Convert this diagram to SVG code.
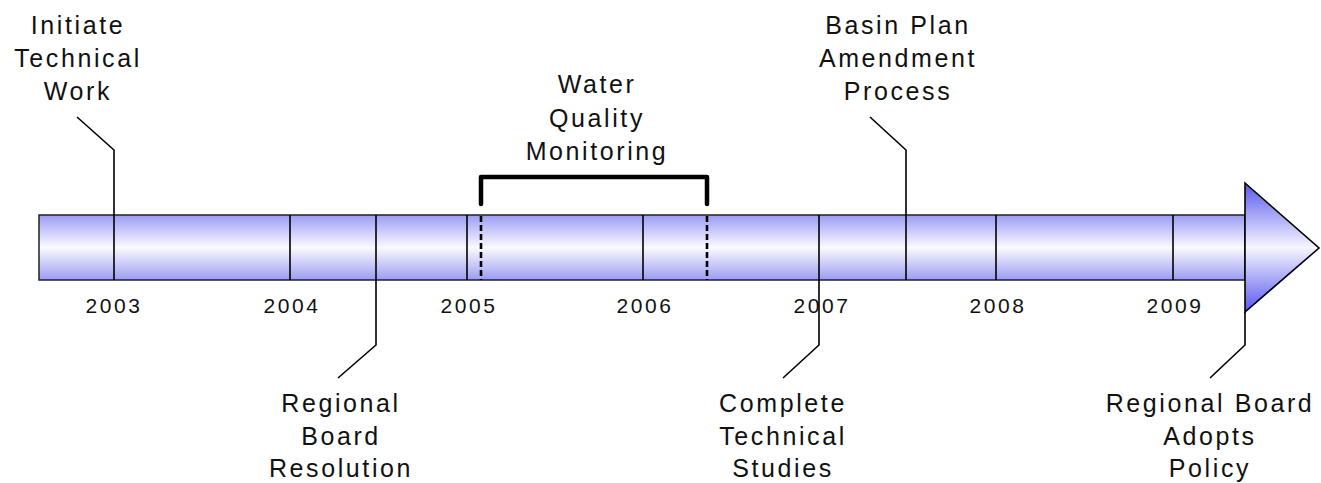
<svg xmlns="http://www.w3.org/2000/svg" width="1321" height="483" viewBox="0 0 1321 483">
<defs>
<linearGradient id="barGrad" x1="0" y1="0" x2="0" y2="1">
<stop offset="0" stop-color="#9c9cf4"/>
<stop offset="0.5" stop-color="#fafaff"/>
<stop offset="1" stop-color="#9c9cf4"/>
</linearGradient>
<linearGradient id="headGrad" x1="0" y1="0" x2="0" y2="1">
<stop offset="0" stop-color="#5858ee"/>
<stop offset="0.5" stop-color="#f6f6ff"/>
<stop offset="1" stop-color="#5858ee"/>
</linearGradient>
<style>
.lbl{font-family:"Liberation Sans",Arial,sans-serif;font-size:25px;letter-spacing:2.6px;fill:#111;text-anchor:middle}
.yr{font-family:"Liberation Sans",Arial,sans-serif;font-size:21px;letter-spacing:2.6px;fill:#111;text-anchor:middle}
.div{stroke:#000;stroke-width:1.6;fill:none}
.dash{stroke:#000;stroke-width:2.6;stroke-dasharray:6,3;fill:none}
.con{stroke:#000;stroke-width:1.6;fill:none}
</style>
</defs>
<g id="timeline">
<rect x="39" y="215" width="1206" height="65" fill="url(#barGrad)" stroke="#222" stroke-width="1.5"/>
<polygon points="1245,183 1319,248 1245,312" fill="url(#headGrad)" stroke="#000" stroke-width="1.6" stroke-linejoin="miter"/>
<line class="div" x1="114" y1="215" x2="114" y2="280"/>
<line class="div" x1="290" y1="215" x2="290" y2="280"/>
<line class="div" x1="376" y1="215" x2="376" y2="280"/>
<line class="div" x1="467" y1="215" x2="467" y2="280"/>
<line class="div" x1="643" y1="215" x2="643" y2="280"/>
<line class="div" x1="819" y1="215" x2="819" y2="280"/>
<line class="div" x1="906" y1="215" x2="906" y2="280"/>
<line class="div" x1="996" y1="215" x2="996" y2="280"/>
<line class="div" x1="1173" y1="215" x2="1173" y2="280"/>
<line class="dash" x1="481" y1="216" x2="481" y2="280"/>
<line class="dash" x1="707" y1="216" x2="707" y2="280"/>
</g>
<g id="years">
<text class="yr" x="114" y="313">2003</text>
<text class="yr" x="292" y="313">2004</text>
<text class="yr" x="469" y="313">2005</text>
<text class="yr" x="645" y="313">2006</text>
<text class="yr" x="822" y="313">2007</text>
<text class="yr" x="998" y="313">2008</text>
<text class="yr" x="1175" y="313">2009</text>
</g>
<g id="connectors">
<polyline class="con" points="77,117 114,150 114,215"/>
<polyline class="con" points="870,117 906,150 906,215"/>
<polyline class="con" points="376,280 376,345 338,378"/>
<polyline class="con" points="819,280 819,345 783,378"/>
<polyline class="con" points="1245,312 1245,345 1210,378"/>
<path d="M481,204 V177 H707 V204" fill="none" stroke="#000" stroke-width="4.5" stroke-linecap="round" stroke-linejoin="round"/>
</g>
<g id="n-initiate">
<text class="lbl" x="78" y="34">Initiate</text>
<text class="lbl" x="78" y="67">Technical</text>
<text class="lbl" x="78" y="100">Work</text>
</g>
<g id="n-monitoring">
<text class="lbl" x="597" y="93">Water</text>
<text class="lbl" x="597" y="127">Quality</text>
<text class="lbl" x="597" y="160">Monitoring</text>
</g>
<g id="n-basin">
<text class="lbl" x="898" y="34">Basin Plan</text>
<text class="lbl" x="898" y="67">Amendment</text>
<text class="lbl" x="898" y="100">Process</text>
</g>
<g id="n-resolution">
<text class="lbl" x="341" y="412">Regional</text>
<text class="lbl" x="341" y="445">Board</text>
<text class="lbl" x="341" y="477">Resolution</text>
</g>
<g id="n-complete">
<text class="lbl" x="783" y="412">Complete</text>
<text class="lbl" x="783" y="445">Technical</text>
<text class="lbl" x="783" y="477">Studies</text>
</g>
<g id="n-adopts">
<text class="lbl" x="1210" y="412">Regional Board</text>
<text class="lbl" x="1210" y="445">Adopts</text>
<text class="lbl" x="1210" y="477">Policy</text>
</g>
</svg>
